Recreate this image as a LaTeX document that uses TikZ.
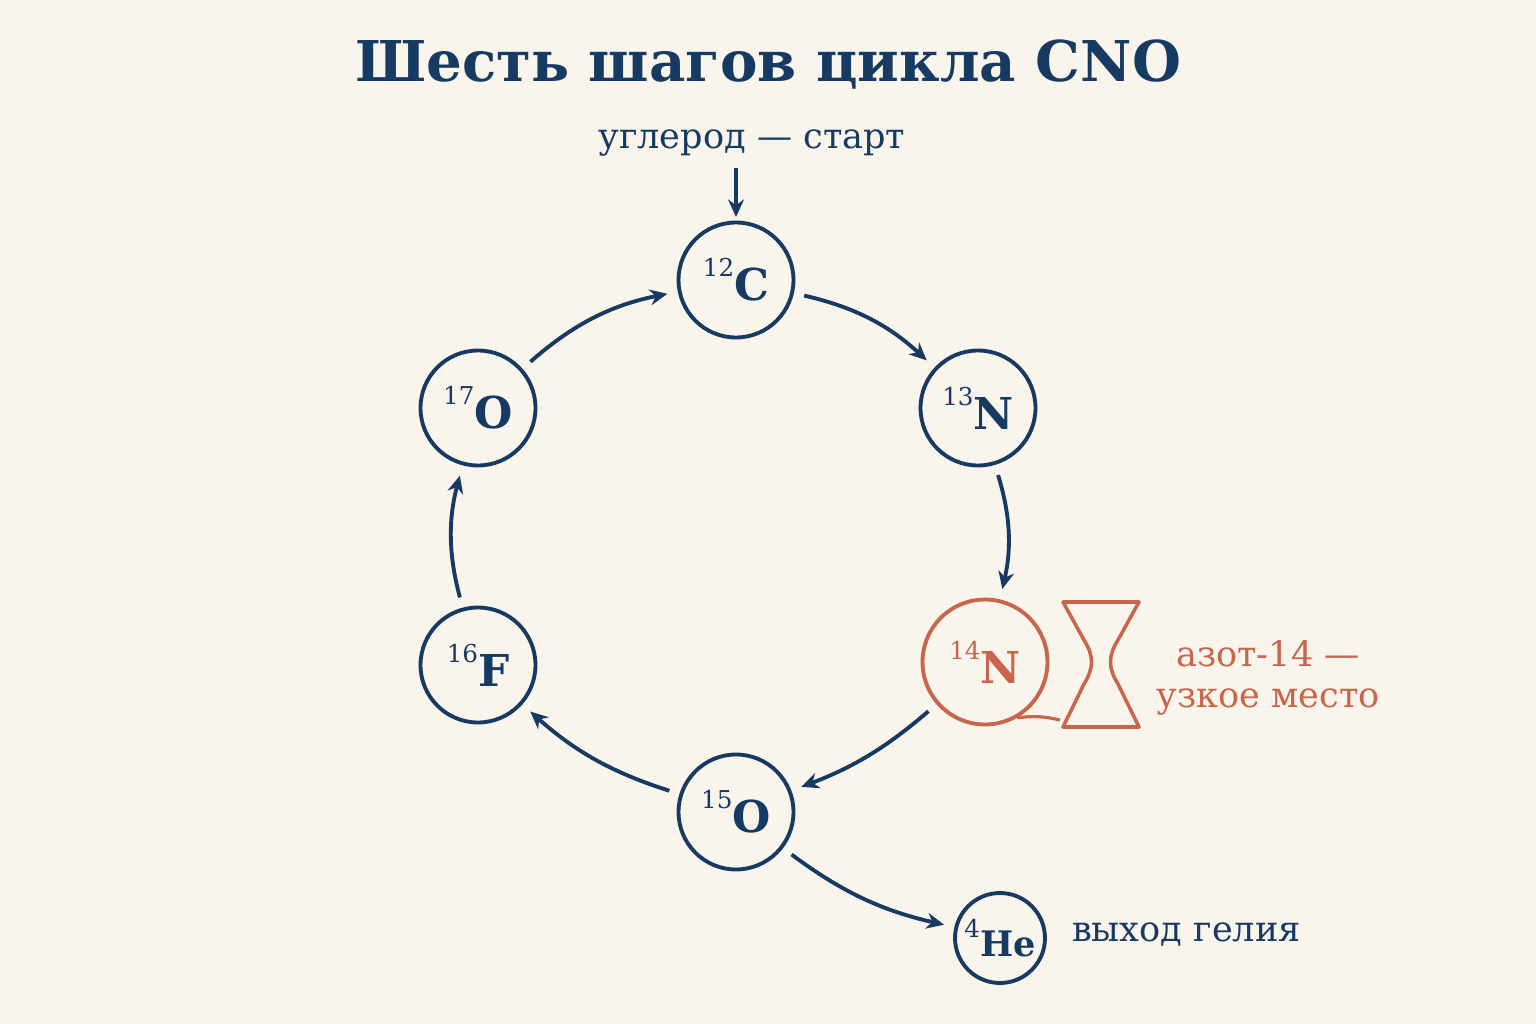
\documentclass[tikz,border=0pt]{standalone}
\usepackage{fontspec}
\setmainfont{DejaVu Serif}
\usetikzlibrary{arrows.meta}
\definecolor{bg}{HTML}{F9F4EC}
\definecolor{nv}{HTML}{173A63}
\definecolor{og}{HTML}{C8654A}
\newcommand{\myiso}[2]{\raisebox{0.55em}{\fontsize{14}{14}\mdseries\selectfont #1}#2}
\begin{document}
\begin{tikzpicture}[x=0.02cm,y=-0.02cm,
 nuc/.style={circle,draw=nv,line width=2.2pt,minimum size=2.3cm,inner sep=0pt,text=nv,font=\fontsize{25}{27}\selectfont\bfseries},
 arr/.style={draw=nv,line width=2.2pt,-{Stealth[length=10pt,width=9pt]},shorten <=6pt,shorten >=6pt},
 lbl/.style={text=nv,font=\fontsize{20}{23}\selectfont}]
\fill[bg] (0,0) rectangle (1536,1024);
\useasboundingbox (0,0) rectangle (1536,1024);
\node[text=nv,font=\fontsize{32}{36}\selectfont\bfseries] (title) at (768,65) {Шесть шагов цикла CNO};
\node[lbl] (start) at (752,143) {углерод — старт};
\coordinate (st) at (736,168);
\node[nuc] (c12) at (736,280) {\myiso{12}{C}};
\node[nuc] (n13) at (978,408) {\myiso{13}{N}};
\node[nuc,draw=og,text=og,minimum size=2.5cm] (n14) at (985,662) {\myiso{14}{N}};
\node[nuc] (o15) at (736,812) {\myiso{15}{O}};
\node[nuc] (f16) at (478,665) {\myiso{16}{F}};
\node[nuc] (o17) at (478,408) {\myiso{17}{O}};
\node[nuc,minimum size=1.8cm,font=\fontsize{20}{22}\selectfont\bfseries] (he) at (1000,938) {\myiso{4}{He}};
\node[lbl,anchor=west] (hel) at (1066,935) {выход гелия};
\node[text=og,font=\fontsize{20}{23}\selectfont,align=center] (bn) at (1268,678) {азот-14 —\\узкое место};
\draw[arr,shorten <=0pt,shorten >=2pt] (st) -- (c12);
\draw[arr] (c12) to[bend left=15] (n13);
\draw[arr] (n13) to[bend left=15] (n14);
\draw[arr] (n14) to[bend left=10] (o15);
\draw[arr] (o15) to[bend left=12] (f16);
\draw[arr] (f16) to[bend left=15] (o17);
\draw[arr] (o17) to[bend left=15] (c12);
\draw[arr] (o15) to[bend right=12] (he);
\coordinate (hg1) at (1063,602);
\coordinate (hg2) at (1139,602);
\coordinate (hg3) at (1139,727);
\coordinate (hg4) at (1063,727);
\draw[og,line width=2pt,line join=round] (hg1) -- (hg2) -- (1118,640) .. controls (1108,656) and (1108,668) .. (1118,684) -- (hg3) -- (hg4) -- (1084,684) .. controls (1094,668) and (1094,656) .. (1084,640) -- cycle;
\coordinate (tk) at (1060,720);
\draw[og,line width=1.8pt] (n14.-60) to[bend left=10] (tk);
\end{tikzpicture}
\end{document}
